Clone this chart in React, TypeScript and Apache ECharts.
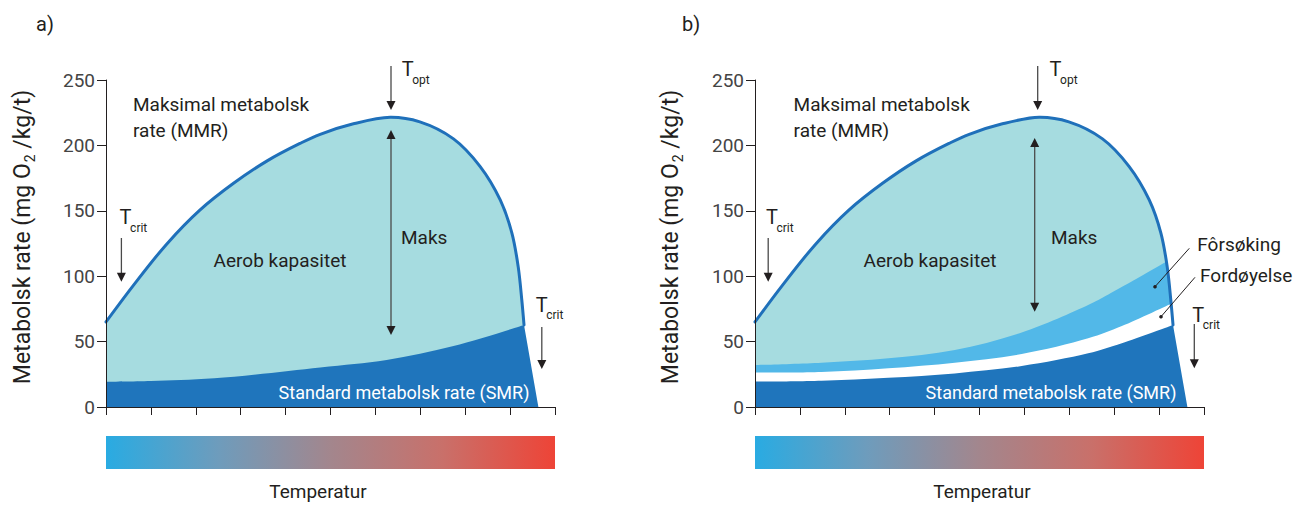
import React, { useEffect, useRef } from 'react';
import * as echarts from 'echarts';

// ---------- data ----------
const TEMP_TICKS = [0, 1, 2, 3, 4, 5, 6, 7, 8, 9, 10];
const RATE_TICKS = [0, 50, 100, 150, 200, 250];

// Maksimal metabolsk rate (MMR)
const MMR_T = [0, 0.61, 1.35, 2.09, 2.84, 3.58, 4.32, 4.77, 5.51, 6.33, 6.99, 7.74, 8.33, 8.78, 9.04, 9.18, 9.26, 9.31];
const MMR_RATE = [65, 93, 124.5, 150.5, 171, 188, 201.5, 208.5, 216.5, 221.5, 218, 205, 184, 158.3, 133, 107.3, 82, 62.7];

// Standard metabolsk rate (SMR), panel a
const SMR_A_T = [0, 1.0, 2.41, 4.77, 6.25, 7.74, 9.31];
const SMR_A_RATE = [19.3, 19.9, 21.9, 30.2, 35.9, 46.6, 62.7];

// Standard metabolsk rate (SMR), panel b
const SMR_B_T = [0, 1.48, 2.97, 4.45, 5.94, 7.42, 8.17, 9.31];
const SMR_B_RATE = [19.4, 20.1, 22.4, 25.7, 31.3, 41, 48.7, 62.7];

// Upper edge of Fordøyelse band (white), panel b
const DIGEST_T = [0, 1.48, 2.97, 4.45, 5.94, 7.42, 8.17, 9.265];
const DIGEST_RATE = [26.3, 26.8, 29.6, 33.9, 40.5, 52.5, 61.9, 79];

// Upper edge of Fôrsøking band (light blue), panel b
const FEED_T = [0, 1.48, 2.97, 4.45, 5.94, 7.42, 7.87, 9.16];
const FEED_RATE = [32.1, 33.9, 37.2, 43.6, 57, 78, 86, 111];

// Temperature where SMR reaches zero (upper critical)
const SMR_END_T = 9.63;

// ---------- styling ----------
const FONT = 'Roboto, "Noto Sans", sans-serif';
const INK = '#231F20';
const TEAL = '#A6DCE0';
const LIGHT_BLUE = '#52B8E8';
const DARK_BLUE = '#1F75BC';
const LINE_BLUE = '#1F70BA';

type P = [number, number];
const zip = (t: number[], r: number[]): P[] => t.map((v, i) => [v, r[i]] as P);

const MMR = zip(MMR_T, MMR_RATE);
const SMR_A = zip(SMR_A_T, SMR_A_RATE);
const SMR_B = zip(SMR_B_T, SMR_B_RATE);
const DIGEST = zip(DIGEST_T, DIGEST_RATE);
const FEED = zip(FEED_T, FEED_RATE);

// centripetal Catmull-Rom path through pixel points
function smoothPath(pts: number[][]): string {
  const n = pts.length;
  let s = `M${pts[0][0]},${pts[0][1]}`;
  const alpha = 0.5;
  const dist = (a: number[], b: number[]) => Math.hypot(b[0] - a[0], b[1] - a[1]);
  for (let i = 0; i < n - 1; i++) {
    const p0 = pts[i - 1] || pts[i];
    const p1 = pts[i];
    const p2 = pts[i + 1];
    const p3 = pts[i + 2] || pts[i + 1];
    const l01 = Math.pow(dist(p0, p1), alpha);
    const l12 = Math.pow(dist(p1, p2), alpha);
    const l23 = Math.pow(dist(p2, p3), alpha);
    const l01_2 = l01 * l01, l12_2 = l12 * l12, l23_2 = l23 * l23;
    let c1x = p1[0], c1y = p1[1], c2x = p2[0], c2y = p2[1];
    if (l01 > 1e-6) {
      const a = 2 * l01_2 + 3 * l01 * l12 + l12_2;
      const nn = 3 * l01 * (l01 + l12);
      c1x = (p1[0] * a - p0[0] * l12_2 + p2[0] * l01_2) / nn;
      c1y = (p1[1] * a - p0[1] * l12_2 + p2[1] * l01_2) / nn;
    }
    if (l23 > 1e-6) {
      const b = 2 * l23_2 + 3 * l23 * l12 + l12_2;
      const m = 3 * l23 * (l23 + l12);
      c2x = (p2[0] * b + p1[0] * l23_2 - p3[0] * l12_2) / m;
      c2y = (p2[1] * b + p1[1] * l23_2 - p3[1] * l12_2) / m;
    }
    s += `C${c1x},${c1y},${c2x},${c2y},${p2[0]},${p2[1]}`;
  }
  return s;
}

function regionSeries(gi: number, top: P[], tail: P[], baseEnd: number, fill: string, z: number) {
  return {
    type: 'custom',
    xAxisIndex: gi,
    yAxisIndex: gi,
    z,
    silent: true,
    data: top,
    encode: { x: 0, y: 1 },
    renderItem: (params: any, api: any) => {
      if (params.dataIndex !== 0) return null;
      const c = (p: P) => api.coord(p);
      let d = smoothPath(top.map(c));
      for (const p of tail) {
        const q = c(p);
        d += `L${q[0]},${q[1]}`;
      }
      const e = c([baseEnd, 0]);
      const s = c([top[0][0], 0]);
      d += `L${e[0]},${e[1]}L${s[0]},${s[1]}Z`;
      return { type: 'path', shape: { pathData: d }, style: { fill, stroke: 'none' } };
    },
  };
}

function strokeSeries(gi: number, pts: P[]) {
  return {
    type: 'custom',
    xAxisIndex: gi,
    yAxisIndex: gi,
    z: 4,
    silent: true,
    data: pts,
    encode: { x: 0, y: 1 },
    renderItem: (params: any, api: any) => {
      if (params.dataIndex !== 0) return null;
      const d = smoothPath(pts.map((p) => api.coord(p)));
      return {
        type: 'path',
        shape: { pathData: d },
        style: { fill: 'none', stroke: LINE_BLUE, lineWidth: 3, lineCap: 'round', lineJoin: 'round' },
      };
    },
  };
}

// ---------- annotation helpers ----------
const txt = (text: string, x: number, y: number, o: any = {}) => ({
  type: 'text',
  x,
  y,
  z: 20,
  style: { text, fontFamily: FONT, fontSize: 19, fill: INK, align: 'left', verticalAlign: 'middle', ...o },
});

const tLabel = (x: number, y: number, sub: string) => [
  txt('T', x, y, { fontSize: 20 }),
  txt(sub, x + 10.5, y + 10.3, { fontSize: 12 }),
];

const head = (x: number, tip: number, dir: number) => ({
  type: 'polygon',
  z: 20,
  shape: { points: [[x - 4.5, tip - dir * 9], [x + 4.5, tip - dir * 9], [x, tip]] },
  style: { fill: INK },
});

const arrowDown = (x: number, y1: number, tip: number) => [
  { type: 'line', z: 19, shape: { x1: x, y1, x2: x, y2: tip - 6 }, style: { stroke: '#4a4a4a', lineWidth: 1.3 } },
  head(x, tip, 1),
];

const arrowBoth = (x: number, tipTop: number, tipBottom: number) => [
  { type: 'line', z: 19, shape: { x1: x, y1: tipTop + 6, x2: x, y2: tipBottom - 6 }, style: { stroke: '#4a4a4a', lineWidth: 1.3 } },
  head(x, tipTop, -1),
  head(x, tipBottom, 1),
];

const yTitle = (x: number, y: number) => ({
  type: 'text',
  x,
  y,
  z: 20,
  rotation: Math.PI / 2,
  style: {
    text: '{a|Metabolsk rate (mg O}{s|2}{a| /kg/t)}',
    align: 'center',
    verticalAlign: 'middle',
    rich: {
      a: { fontFamily: FONT, fontSize: 23, fill: INK, lineHeight: 30 },
      s: { fontFamily: FONT, fontSize: 14, fill: INK, lineHeight: 14, verticalAlign: 'bottom', padding: [0, 0, 0, 1] },
    },
  },
});

const gradient = () =>
  new echarts.graphic.LinearGradient(0, 0, 1, 0, [
    { offset: 0, color: '#29ABE2' },
    { offset: 0.25, color: '#6E9CBC' },
    { offset: 0.5, color: '#A3868D' },
    { offset: 0.75, color: '#C9706A' },
    { offset: 1, color: '#EE4437' },
  ]);

const bar = (x: number) => ({ type: 'rect', z: 10, shape: { x, y: 436, width: 449, height: 33 }, style: { fill: gradient() } });

const leader = (x1: number, y1: number, x2: number, y2: number) => [
  { type: 'line', z: 20, shape: { x1, y1, x2, y2 }, style: { stroke: INK, lineWidth: 1 } },
  { type: 'circle', z: 20, shape: { cx: x2, cy: y2, r: 1.8 }, style: { fill: INK } },
];

function buildOption() {
  const grids = [
    { left: 106, top: 80, width: 449, height: 327 },
    { left: 755, top: 80, width: 449, height: 327 },
  ];
  const xAxis = grids.map((_, i) => ({
    type: 'value',
    gridIndex: i,
    min: TEMP_TICKS[0],
    max: TEMP_TICKS[TEMP_TICKS.length - 1],
    interval: TEMP_TICKS[1] - TEMP_TICKS[0],
    z: 10,
    axisLine: { show: true, onZero: false, lineStyle: { color: INK, width: 1 } },
    axisTick: { show: true, inside: false, length: 8, lineStyle: { color: INK, width: 1 } },
    axisLabel: { show: false },
    splitLine: { show: false },
  }));
  const yAxis = grids.map((_, i) => ({
    type: 'value',
    gridIndex: i,
    min: RATE_TICKS[0],
    max: RATE_TICKS[RATE_TICKS.length - 1],
    interval: RATE_TICKS[1] - RATE_TICKS[0],
    z: 10,
    axisLine: { show: true, onZero: false, lineStyle: { color: INK, width: 1 } },
    axisTick: { show: true, inside: false, length: 9, lineStyle: { color: INK, width: 1 } },
    axisLabel: { show: true, fontFamily: FONT, fontSize: 19, color: '#444444', margin: 11 },
    splitLine: { show: false },
  }));

  const tailAfter = (t: number) => MMR.filter((p) => p[0] > t);
  const mmrEnd = MMR[MMR.length - 1][0];

  const series = [
    // panel a
    regionSeries(0, MMR, [], mmrEnd, TEAL, 2),
    regionSeries(0, SMR_A, [], SMR_END_T, DARK_BLUE, 3),
    strokeSeries(0, MMR),
    // panel b
    regionSeries(1, MMR, [], mmrEnd, TEAL, 2),
    regionSeries(1, FEED, tailAfter(FEED[FEED.length - 1][0]), mmrEnd, LIGHT_BLUE, 2),
    regionSeries(1, DIGEST, tailAfter(DIGEST[DIGEST.length - 1][0]), mmrEnd, '#FFFFFF', 2),
    regionSeries(1, SMR_B, [], SMR_END_T, DARK_BLUE, 3),
    strokeSeries(1, MMR),
  ];

  const elements: any[] = [
    // panel a
    txt('a)', 36, 24, { fontSize: 20 }),
    yTitle(22, 237),
    txt('Maksimal metabolsk', 133, 104.5),
    txt('rate (MMR)', 133, 130),
    txt('Aerob kapasitet', 280, 260.5, { align: 'center' }),
    txt('Maks', 401, 237.5),
    txt('Standard metabolsk rate (SMR)', 404, 392, { fill: '#FFFFFF', fontSize: 18, align: 'center' }),
    ...tLabel(401.7, 69.2, 'opt'),
    ...arrowDown(391, 66, 110),
    ...arrowBoth(391, 130, 335),
    ...tLabel(119.6, 217.3, 'crit'),
    ...arrowDown(121.4, 238, 281.7),
    ...tLabel(535.7, 305, 'crit'),
    ...arrowDown(541.8, 327, 369),
    bar(106),
    txt('Temperatur', 318, 491, { align: 'center' }),
    // panel b
    txt('b)', 682, 24, { fontSize: 20 }),
    yTitle(670, 237),
    txt('Maksimal metabolsk', 793.6, 104.5),
    txt('rate (MMR)', 793.6, 130),
    txt('Aerob kapasitet', 930, 260.5, { align: 'center' }),
    txt('Maks', 1051, 237.5),
    txt('Standard metabolsk rate (SMR)', 1051, 392, { fill: '#FFFFFF', fontSize: 18, align: 'center' }),
    ...tLabel(1049.6, 69.2, 'opt'),
    ...arrowDown(1037.7, 66, 110),
    ...arrowBoth(1034.7, 138, 311.7),
    ...tLabel(766, 217.3, 'crit'),
    ...arrowDown(768.2, 238, 281.7),
    ...tLabel(1192.3, 314.5, 'crit'),
    ...arrowDown(1194.3, 324, 368.3),
    txt('Fôrsøking', 1197.3, 244),
    txt('Fordøyelse', 1200, 275),
    ...leader(1189.3, 248.3, 1155, 286.7),
    ...leader(1195, 277.3, 1161, 316.7),
    bar(755),
    txt('Temperatur', 982, 491, { align: 'center' }),
  ];

  return {
    animation: false,
    backgroundColor: '#FFFFFF',
    textStyle: { fontFamily: FONT },
    grid: grids,
    xAxis,
    yAxis,
    series,
    graphic: { elements },
  };
}

export default function App() {
  const ref = useRef<HTMLDivElement>(null);
  useEffect(() => {
    if (!ref.current) return;
    const chart = echarts.init(ref.current, undefined, { renderer: 'svg' });
    chart.setOption(buildOption() as any);
    return () => chart.dispose();
  }, []);
  return (
    <div
      ref={ref}
      style={{ position: 'absolute', left: 0, top: 0, width: 1304, height: 505, background: '#FFFFFF' }}
    />
  );
}
